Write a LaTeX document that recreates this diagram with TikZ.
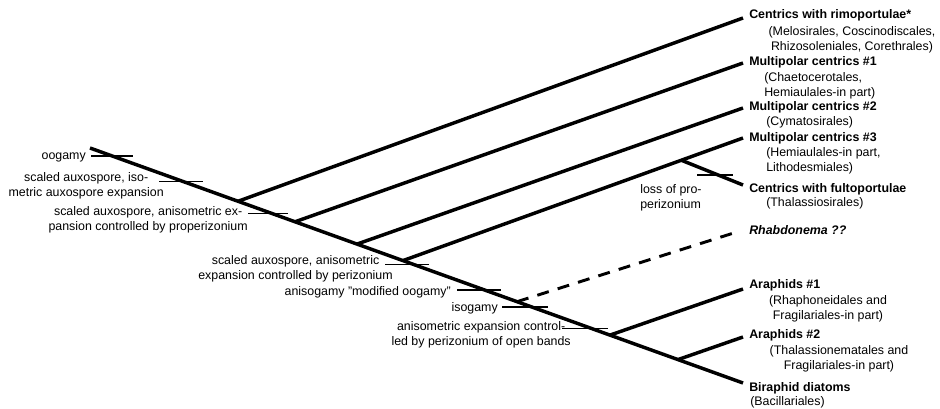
\documentclass[tikz,border=0pt]{standalone}
\usepackage{fontspec}
\setmainfont{Liberation Sans}

\begin{document}
\begin{tikzpicture}[x=0.75pt,y=-0.75pt,
        every node/.style={inner sep=0pt,font=\fontsize{9.3}{11.4}\selectfont},
        stem/.style={line width=2.6pt},
        tickline/.style={line width=0.9pt},
        taxon/.style={anchor=west,font=\fontsize{9.3}{11.4}\selectfont\bfseries},
        group/.style={anchor=west,align=left},
        note/.style={anchor=east,align=center}]
    \useasboundingbox (0,0) rectangle (940,409);

    \coordinate (r) at (90,148);
    \coordinate (b1) at (238,201.3);
    \coordinate (b2) at (295,221.8);
    \coordinate (b3) at (357,244.1);
    \coordinate (b4) at (403,260.6);
    \coordinate (bd) at (517,301.7);
    \coordinate (ba1) at (610,335.1);
    \coordinate (ba2) at (678,359.6);
    \coordinate (f) at (682,160.5);

    \coordinate (o1) at (743,18);
    \coordinate (o2) at (743,63);
    \coordinate (o3) at (743,108);
    \coordinate (o4) at (743,138);
    \coordinate (o5) at (743,185);
    \coordinate (od) at (740,231);
    \coordinate (o6) at (743,289);
    \coordinate (o7) at (743,337);
    \coordinate (o8) at (743,383);

    \coordinate (t1) at (112,156);
    \coordinate (t2) at (181,181.5);
    \coordinate (t3) at (268,213.5);
    \coordinate (t4) at (407,264.5);
    \coordinate (t5) at (479,290);
    \coordinate (t6) at (525,307);
    \coordinate (t7) at (585,328.5);
    \coordinate (t8) at (715,175);

    \draw[stem] (r) -- (o8);
    \draw[stem] (b1) -- (o1);
    \draw[stem] (b2) -- (o2);
    \draw[stem] (b3) -- (o3);
    \draw[stem] (b4) -- (o4);
    \draw[stem] (f) -- (o5);
    \draw[stem,line width=2.2pt,dash pattern=on 9pt off 7pt] (bd) -- (od);
    \draw[stem] (ba1) -- (o6);
    \draw[stem] (ba2) -- (o7);

    \draw[tickline] (t1) +(-21,0) -- +(21,0);
    \draw[tickline] (t2) +(-22,0) -- +(22,0);
    \draw[tickline] (t3) +(-20,0) -- +(20,0);
    \draw[tickline] (t4) +(-22,0) -- +(22,0);
    \draw[tickline] (t5) +(-22,0) -- +(22,0);
    \draw[tickline] (t6) +(-23,0) -- +(23,0);
    \draw[tickline] (t7) +(-23,0) -- +(23,0);
    \draw[tickline] (t8) +(-18,0) -- +(18,0);

    \node[note] (n1) at (86,157) {oogamy};
    \node[note] (n2) at (164,186) {scaled auxospore, iso-\\metric auxospore expansion};
    \node[note] (n3) at (248,220) {scaled auxospore, anisometric ex-\\pansion controlled by properizonium};
    \node[note] (n4) at (393,268.5) {scaled auxospore, anisometric\\expansion controlled by perizonium};
    \node[note] (n5) at (451,292) {anisogamy "modified oogamy"};
    \node[note] (n6) at (498,308) {isogamy};
    \node[note] (n7) at (571,334.5) {anisometric expansion control-\\led by perizonium of open bands};
    \node[group] (n8) at (640,197.5) {loss of pro-\\perizonium};

    \node[taxon] (g1) at (749,15) {Centrics with rimoportulae*};
    \node[align=center] (s1) at (852,40) {(Melosirales, Coscinodiscales,\\Rhizosoleniales, Corethrales)};
    \node[taxon] (g2) at (749,62) {Multipolar centrics \#1};
    \node[group] (s2) at (764,86) {(Chaetocerotales,\\Hemiaulales-in part)};
    \node[taxon] (g3) at (749,107) {Multipolar centrics \#2};
    \node[group] (s3) at (766,122) {(Cymatosirales)};
    \node[taxon] (g4) at (749,138) {Multipolar centrics \#3};
    \node[group] (s4) at (766,161) {(Hemiaulales-in part,\\Lithodesmiales)};
    \node[taxon] (g5) at (749,189) {Centrics with fultoportulae};
    \node[group] (s5) at (766,203) {(Thalassiosirales)};
    \node[taxon,font=\fontsize{9.3}{11.4}\selectfont\bfseries\itshape] (g6) at (749,230) {Rhabdonema ??};
    \node[taxon] (g7) at (749,285) {Araphids \#1};
    \node[align=center] (s7) at (828,309) {(Rhaphoneidales and\\Fragilariales-in part)};
    \node[taxon] (g8) at (749,335) {Araphids \#2};
    \node[align=center] (s8) at (839,359) {(Thalassionematales and\\Fragilariales-in part)};
    \node[taxon] (g9) at (749,388) {Biraphid diatoms};
    \node[group] (s9) at (750,402) {(Bacillariales)};
\end{tikzpicture}
\end{document}
